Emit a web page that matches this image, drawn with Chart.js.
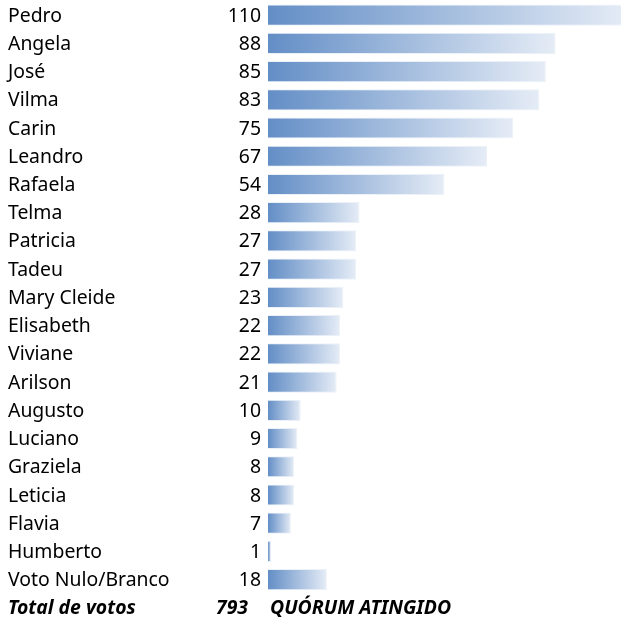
<!DOCTYPE html>
<html>
<head>
<meta charset="utf-8">
<script src="https://cdn.jsdelivr.net/npm/chart.js@4"></script>
<style>
  html, body { margin:0; padding:0; background:#fff; }
  #wrap { width:622px; height:622px; }
</style>
</head>
<body>
<div id="wrap"><canvas id="votos"></canvas></div>
<script>
// ====== dados ======
const nomes = ['Pedro','Angela','José','Vilma','Carin','Leandro','Rafaela','Telma','Patricia','Tadeu',
  'Mary Cleide','Elisabeth','Viviane','Arilson','Augusto','Luciano','Graziela','Leticia','Flavia','Humberto',
  'Voto Nulo/Branco'];
const votos = [110, 88, 85, 83, 75, 67, 54, 28, 27, 27, 23, 22, 22, 21, 10, 9, 8, 8, 7, 1, 18];
const totalLabel = 'Total de votos';
const totalVotos = 793;
const statusQuorum = 'QUÓRUM ATINGIDO';

const FONT = '"Noto Sans", sans-serif';
const FS = 19.4;

// linha do total entra como categoria sem barra
const labels = nomes.concat([totalLabel]);
const data = votos.concat([null]);

// ====== textos da tabela ======
const tabelaPlugin = {
  id: 'tabela',
  afterDatasetsDraw(chart){
    const c = chart.ctx, y = chart.scales.y;
    c.save();
    c.textBaseline = 'middle';
    c.fillStyle = '#000';
    labels.forEach((nome, i) => {
      const py = y.getPixelForValue(i) + 1;
      if(i < nomes.length){
        c.font = FS + 'px ' + FONT;
        c.textAlign = 'left';
        c.fillText(nome, 8, py);
        c.textAlign = 'right';
        c.fillText(String(votos[i]), 261, py);
      } else {
        c.font = 'italic bold ' + FS + 'px ' + FONT;
        c.textAlign = 'left';
        c.fillText(nome, 8, py);
        c.textAlign = 'right';
        c.fillText(String(totalVotos), 248, py);
        c.textAlign = 'left';
        c.fillText(statusQuorum, 270, py);
      }
    });
    c.restore();
  }
};

// gradiente por barra (estilo data bar do Excel)
function gradiente(ctx){
  const chart = ctx.chart, x = chart.scales.x;
  const v = ctx.raw;
  if(!x || v == null) return '#638EC6';
  const x0 = x.getPixelForValue(0), x1 = x.getPixelForValue(v);
  if(!isFinite(x0) || !isFinite(x1) || x1 - x0 < 1) return '#638EC6';
  const g = chart.ctx.createLinearGradient(x0, 0, x1, 0);
  g.addColorStop(0, '#638EC6');
  g.addColorStop(1, '#E5ECF6');
  return g;
}

new Chart(document.getElementById('votos'), {
  type: 'bar',
  data: {
    labels,
    datasets: [{
      data,
      backgroundColor: gradiente,
      borderColor: 'rgba(99,142,198,0.12)',
      borderWidth: 1,
      borderSkipped: 'start',
      barPercentage: 0.75,
      categoryPercentage: 1
    }]
  },
  options: {
    indexAxis: 'y',
    responsive: true,
    maintainAspectRatio: false,
    animation: false,
    layout: { padding: { left: 268, right: 1, top: 1, bottom: 0 } },
    scales: {
      x: { display: false, min: 0, max: 108 },
      y: { display: false }
    },
    plugins: { legend: { display: false }, tooltip: { enabled: false } }
  },
  plugins: [tabelaPlugin]
});
</script>
</body>
</html>
